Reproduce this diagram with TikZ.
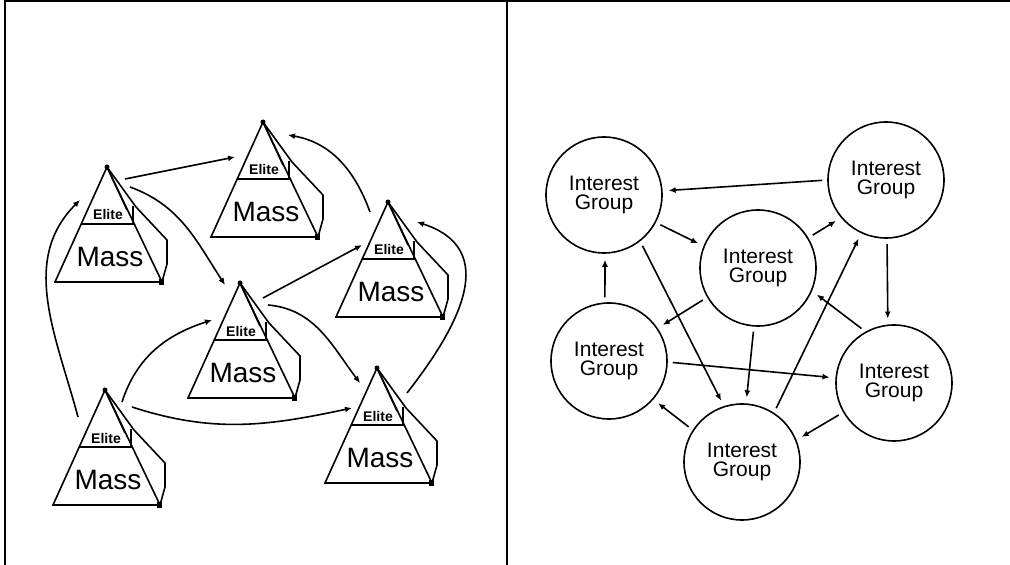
\documentclass[tikz,border=0pt]{standalone}
\usepackage{fontspec}
\setmainfont{Liberation Sans}
\usetikzlibrary{arrows.meta, positioning}
\tikzset{
	elite/.style={font=\bfseries\fontsize{14}{14}\selectfont, inner sep=0pt},
	mass/.style={font=\fontsize{28}{28}\selectfont, inner sep=0pt},
	group/.style={circle, draw, minimum size=116pt, inner sep=0pt, align=center, font=\fontsize{21}{19}\selectfont},
	frame/.style={line width=2.6pt},
	link/.style={->, shorten <=5pt, shorten >=6pt},
	pyramid/.pic={
		\coordinate (-top) at (0,0);
		\draw [pic actions] (0,0) -- (-52,-115) -- (55,-115) -- cycle;
		\draw [pic actions] (-25,-57) -- (27,-57);
		\draw [pic actions] (0,0) -- (20,-43);
		\draw [pic actions] (26,-39) -- (26,-57);
		\draw [pic actions] (0,0) -- (29,-40) -- (60,-73) -- (60,-97) -- (55,-115);
		\fill (0,0) circle (2.5);
		\fill (52,-118) rectangle (57,-112);
		\node[elite] (-elite) at (1,-48) {Elite};
		\node[mass] (-mass) at (3,-90) {Mass};
	}
}

\begin{document}
\begin{tikzpicture}[x=1pt, y=1pt, line width=1.6pt, >={Latex[length=7pt,width=6pt]}]
	\useasboundingbox (0,0) rectangle (1010,565);
	\draw[frame] (5,0) -- (5,564) -- (1010,564);
	\draw[frame] (507,0) -- (507,564);

	% elite / mass pyramids
	\pic (p1) at (107,398) {pyramid};
	\pic (p2) at (263,443) {pyramid};
	\pic (p3) at (240,282) {pyramid};
	\pic (p4) at (388,363) {pyramid};
	\pic (p5) at (377,197) {pyramid};
	\pic (p6) at (105,175) {pyramid};

	\draw[->] ([shift={(18,-12)}]p1-top) -- ([shift={(-28,-35)}]p2-top);
	\draw[->] ([shift={(23,-20)}]p1-top) to[out=-20, in=123] ([shift={(-15,-2)}]p3-top);
	\draw[->] ([shift={(-18,-10)}]p4-top) to[out=110, in=-10] ([shift={(25,-13)}]p2-top);
	\draw[->] ([shift={(-27,-27)}]p6-top) to[out=105, in=-135] ([shift={(-27,-33)}]p1-top);
	\draw[->] ([shift={(17,-12)}]p6-top) to[out=72, in=-162] ([shift={(-28,-37)}]p3-top);
	\draw[->] ([shift={(27,-17)}]p6-top) to[out=-18, in=-168] ([shift={(-25,-40)}]p5-top);
	\draw[->] ([shift={(23,-15)}]p3-top) -- ([shift={(-26,-43)}]p4-top);
	\draw[->] ([shift={(28,-22)}]p3-top) to[out=-5, in=127] ([shift={(-17,-15)}]p5-top);
	\draw[->] ([shift={(30,-25)}]p5-top) to[out=52, in=-18, looseness=1.3] ([shift={(29,-20)}]p4-top);

	% interest groups
	\node[group] (g1) at (604,370) {Interest\\Group};
	\node[group] (g2) at (886,385) {Interest\\Group};
	\node[group] (g3) at (758,297) {Interest\\Group};
	\node[group] (g4) at (609,204) {Interest\\Group};
	\node[group] (g5) at (894,182) {Interest\\Group};
	\node[group] (g6) at (742,103) {Interest\\Group};

	\draw[link] (g2.180) -- (g1.4);
	\draw[link] (g1.-28) -- (g3.158);
	\draw[link] (g3.31) -- (g2.220);
	\draw[link] (g2.-89) -- (g5.96);
	\draw[link] (g4.94) -- (g1.-89);
	\draw[link] (g3.210) -- (g4.34);
	\draw[link] (g1.-52) -- (g6.108);
	\draw[link] (g6.57) -- (g2.245);
	\draw[link] (g5.119) -- (g3.-23);
	\draw[link] (g3.-94) -- (g6.86);
	\draw[link] (g4.-1) -- (g5.175);
	\draw[link] (g6.147) -- (g4.-41);
	\draw[link] (g5.210) -- (g6.22);
\end{tikzpicture}
\end{document}
